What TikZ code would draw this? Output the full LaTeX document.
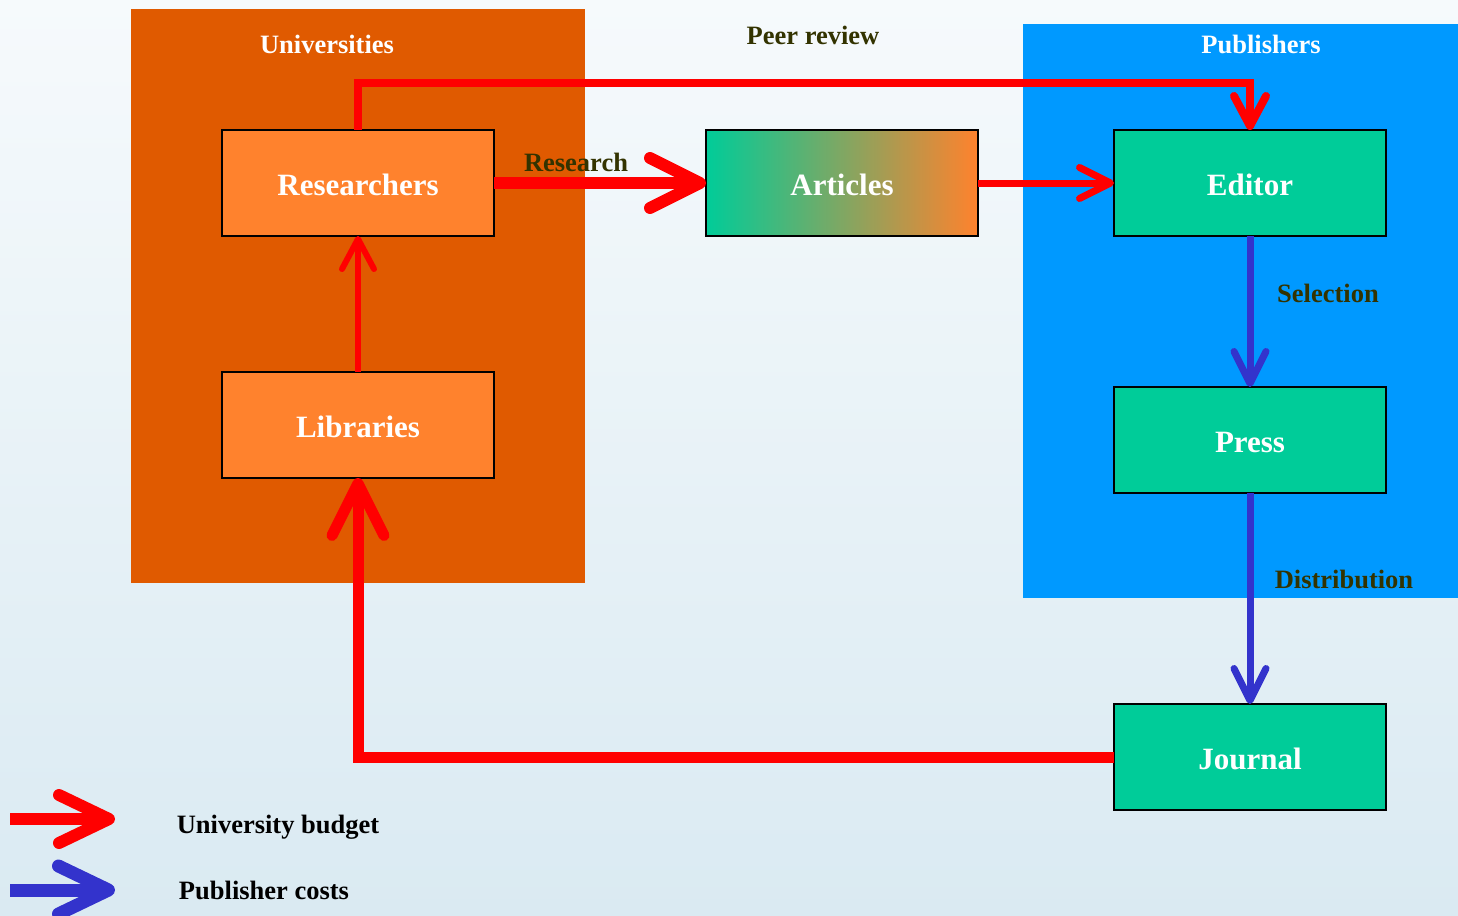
\documentclass[tikz,border=0pt]{standalone}
\usepackage{fontspec}
\setmainfont{Liberation Serif}
\usetikzlibrary{arrows.meta}
\definecolor{bgtop}{RGB}{246,250,252}
\definecolor{bgbot}{RGB}{218,234,242}
\definecolor{uniorange}{RGB}{224,90,0}
\definecolor{pubblue}{RGB}{0,153,255}
\definecolor{boxorange}{RGB}{255,130,45}
\definecolor{boxteal}{RGB}{0,204,153}
\definecolor{olive}{RGB}{51,51,0}
\definecolor{flowred}{RGB}{255,0,0}
\definecolor{flowblue}{RGB}{51,51,204}
\begin{document}
\begin{tikzpicture}[x=1pt,y=-1pt,
  container/.style={draw=none,inner sep=0pt,outer sep=0pt},
  boxnode/.style={draw=black,line width=2pt,minimum width=272pt,minimum height=106pt,inner sep=0pt,outer sep=0pt,
    text height=24pt,text depth=0pt,
    text=white,font=\fontsize{31}{31}\selectfont\bfseries},
  grouplabel/.style={anchor=base,inner sep=0pt,text=white,font=\fontsize{26.5}{26.5}\selectfont\bfseries},
  flowlabel/.style={anchor=base,inner sep=0pt,text=olive,font=\fontsize{26.5}{26.5}\selectfont\bfseries},
  legendlabel/.style={anchor=base,inner sep=0pt,text=black,font=\fontsize{26.5}{26.5}\selectfont\bfseries},
  redflow/.style={draw=flowred},
  blueflow/.style={draw=flowblue},
  barb/.style 2 args={-{Straight Barb[length=#1,width=#2,round]}}
]
\useasboundingbox (0,0) rectangle (1458,915);
\shade[top color=bgtop,bottom color=bgbot] (0,0) rectangle (1458,915);

% containers
\node[container,fill=uniorange,minimum width=454pt,minimum height=574pt] (uni) at (358,296) {};
\node[container,fill=pubblue,minimum width=435pt,minimum height=574pt] (pub) at (1240.5,311) {};

\node[grouplabel] (unilabel) at (327,54) {Universities};
\node[grouplabel] (publabel) at (1261,54) {Publishers};
\node[flowlabel] (peer) at (813,45) {Peer review};

% boxes
\node[boxnode,fill=boxorange] (res) at (358,183) {Researchers};
\node[boxnode,fill=boxorange] (lib) at (358,425) {Libraries};
\node[boxnode,left color=boxteal,right color=boxorange] (art) at (842,183) {Articles};
\node[boxnode,fill=boxteal] (ed) at (1250,183) {Editor};
\node[boxnode,fill=boxteal] (press) at (1250,440) {Press};
\node[boxnode,fill=boxteal] (jou) at (1250,757) {Journal};

% flows
\draw[redflow,line width=8pt,barb={30pt}{32pt}] (res.north) -- ++(0,-47) -| (ed.north);
\draw[redflow,line width=12pt,barb={50pt}{50pt}] (res.east) -- (art.west);
\draw[redflow,line width=7pt,barb={31pt}{31pt}] (art.east) -- (ed.west);
\draw[redflow,line width=6pt,barb={30pt}{32pt}] (lib.north) -- (res.south);
\draw[redflow,line width=11pt,barb={52pt}{52pt}] (jou.west) -| (lib.south);
\draw[blueflow,line width=7pt,barb={32pt}{32pt}] (ed.south) -- (press.north);
\draw[blueflow,line width=7pt,barb={32pt}{32pt}] (press.south) -- (jou.north);

\node[flowlabel] (reslabel) at (576,171) {Research};
\node[flowlabel] (sellabel) at (1328,302) {Selection};
\node[flowlabel] (distlabel) at (1344,588) {Distribution};

% legend
\coordinate (lr1) at (10,819);
\coordinate (lr2) at (115,819);
\coordinate (lb1) at (10,890);
\coordinate (lb2) at (115,890);
\draw[redflow,line width=12pt,barb={50pt}{48pt}] (lr1) -- (lr2);
\draw[blueflow,line width=13pt,barb={50pt}{48pt}] (lb1) -- (lb2);
\node[legendlabel] (leg1) at (278,833) {University budget};
\node[legendlabel] (leg2) at (264,899) {Publisher costs};
\end{tikzpicture}
\end{document}
